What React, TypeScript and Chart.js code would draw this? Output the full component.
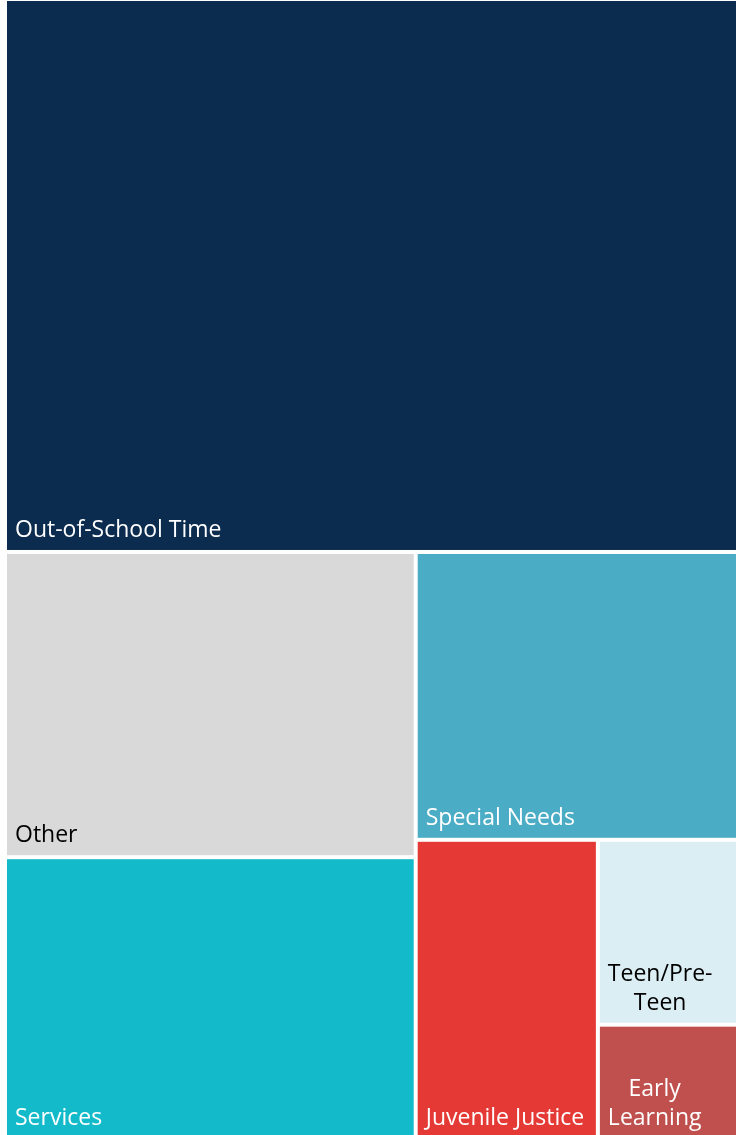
import { useEffect, useRef } from "react";
import { Chart, registerables } from "chart.js";

Chart.register(...registerables);

const categories = [
  "Out-of-School Time",
  "Other",
  "Services",
  "Special Needs",
  "Juvenile Justice",
  "Teen/Pre-Teen",
  "Early Learning",
];
const values = [48.5, 15.0, 13.8, 11.1, 6.5, 3.1, 1.9];
const fillColors = ["#0B2C4E", "#D9D9D9", "#13BBCA", "#4BACC6", "#E53935", "#DAEEF3", "#C0504D"];
const textColors = ["#FFFFFF", "#000000", "#FFFFFF", "#FFFFFF", "#FFFFFF", "#000000", "#FFFFFF"];

type R = { x: number; y: number; w: number; h: number };

function squarify(vals: number[], rect: R): R[] {
  const total = vals.reduce((a, b) => a + b, 0);
  const k = (rect.w * rect.h) / total;
  const areas = vals.map((v) => v * k);
  const out: R[] = [];
  let r = { ...rect };
  let i = 0;
  while (i < areas.length) {
    const side = Math.min(r.w, r.h);
    const worst = (row: number[]) => {
      const s = row.reduce((a, b) => a + b, 0);
      const mx = Math.max(...row);
      const mn = Math.min(...row);
      return Math.max((side * side * mx) / (s * s), (s * s) / (side * side * mn));
    };
    const row = [areas[i]];
    let j = i + 1;
    while (j < areas.length && worst([...row, areas[j]]) <= worst(row)) {
      row.push(areas[j]);
      j++;
    }
    const s = row.reduce((a, b) => a + b, 0);
    const thick = s / side;
    let off = 0;
    if (r.w <= r.h) {
      row.forEach((a) => {
        const len = a / thick;
        out.push({ x: r.x + off, y: r.y, w: len, h: thick });
        off += len;
      });
      r = { x: r.x, y: r.y + thick, w: r.w, h: r.h - thick };
    } else {
      row.forEach((a) => {
        const len = a / thick;
        out.push({ x: r.x, y: r.y + off, w: thick, h: len });
        off += len;
      });
      r = { x: r.x + thick, y: r.y, w: r.w - thick, h: r.h };
    }
    i = j;
  }
  return out;
}

const FONT_SIZE = 23;
const FONT = `${FONT_SIZE}px "Open Sans", "Noto Sans", sans-serif`;

function wrapText(ctx: CanvasRenderingContext2D, text: string, maxW: number): string[] {
  if (ctx.measureText(text).width <= maxW) return [text];
  const tokens = text.match(/[^\s-]+-?|\s+/g) || [text];
  const lines: string[] = [];
  let cur = "";
  tokens.forEach((t) => {
    const test = cur + t;
    if (cur.trim() !== "" && ctx.measureText(test.trim()).width > maxW) {
      lines.push(cur.trim());
      cur = t.trim() === "" ? "" : t;
    } else {
      cur = test;
    }
  });
  if (cur.trim() !== "") lines.push(cur.trim());
  return lines;
}

const treemapPlugin = {
  id: "treemapCells",
  afterDatasetsDraw(chart: any) {
    const { ctx, chartArea } = chart;
    const xs = chart.scales.x;
    const ys = chart.scales.y;
    const W = chartArea.right - chartArea.left;
    const H = chartArea.bottom - chartArea.top;
    const cells = squarify(values, { x: 0, y: 0, w: W, h: H });
    const gap = 2;
    ctx.save();
    cells.forEach((c, idx) => {
      const x0 = xs.getPixelForValue((c.x / W) * 100) + gap;
      const x1 = xs.getPixelForValue(((c.x + c.w) / W) * 100) - gap;
      const y0 = ys.getPixelForValue((c.y / H) * 100) + gap;
      const y1 = ys.getPixelForValue(((c.y + c.h) / H) * 100) - gap;
      ctx.fillStyle = fillColors[idx];
      ctx.fillRect(x0, y0, x1 - x0, y1 - y0);

      ctx.font = FONT;
      ctx.fillStyle = textColors[idx];
      ctx.textBaseline = "alphabetic";
      const padL = 8;
      const maxW = x1 - x0 - 2 * padL;
      const lines = wrapText(ctx, categories[idx], maxW);
      const lh = 29;
      const widths = lines.map((l) => ctx.measureText(l).width);
      const blockW = Math.max(...widths);
      const left = x0 + padL;
      const atBottom = y1 > chartArea.bottom - 4;
      let baseline = y1 - (atBottom ? 11 : 13) - (lines.length - 1) * lh;
      lines.forEach((l, li) => {
        const lx = left + (blockW - widths[li]) / 2;
        ctx.textAlign = "left";
        ctx.fillText(l, lx, baseline);
        baseline += lh;
      });
    });
    ctx.restore();
  },
};

export default function App() {
  const canvasRef = useRef<HTMLCanvasElement | null>(null);

  useEffect(() => {
    if (!canvasRef.current) return;
    const chart = new Chart(canvasRef.current, {
      type: "scatter",
      data: {
        datasets: [
          {
            label: "Programs",
            data: values.map((v, i) => ({ x: i, y: v })),
            pointRadius: 0,
            pointHoverRadius: 0,
            showLine: false,
          },
        ],
      },
      options: {
        animation: false,
        responsive: true,
        maintainAspectRatio: false,
        layout: { padding: 0 },
        plugins: { legend: { display: false }, tooltip: { enabled: false } },
        scales: {
          x: { type: "linear", min: 0, max: 100, display: false },
          y: { type: "linear", min: 0, max: 100, reverse: true, display: false },
        },
      },
      plugins: [treemapPlugin],
    });
    return () => chart.destroy();
  }, []);

  return (
    <div
      style={{
        position: "fixed",
        left: 5,
        top: -1,
        width: 733,
        height: 1139,
        background: "#FFFFFF",
      }}
    >
      <canvas ref={canvasRef} />
    </div>
  );
}
